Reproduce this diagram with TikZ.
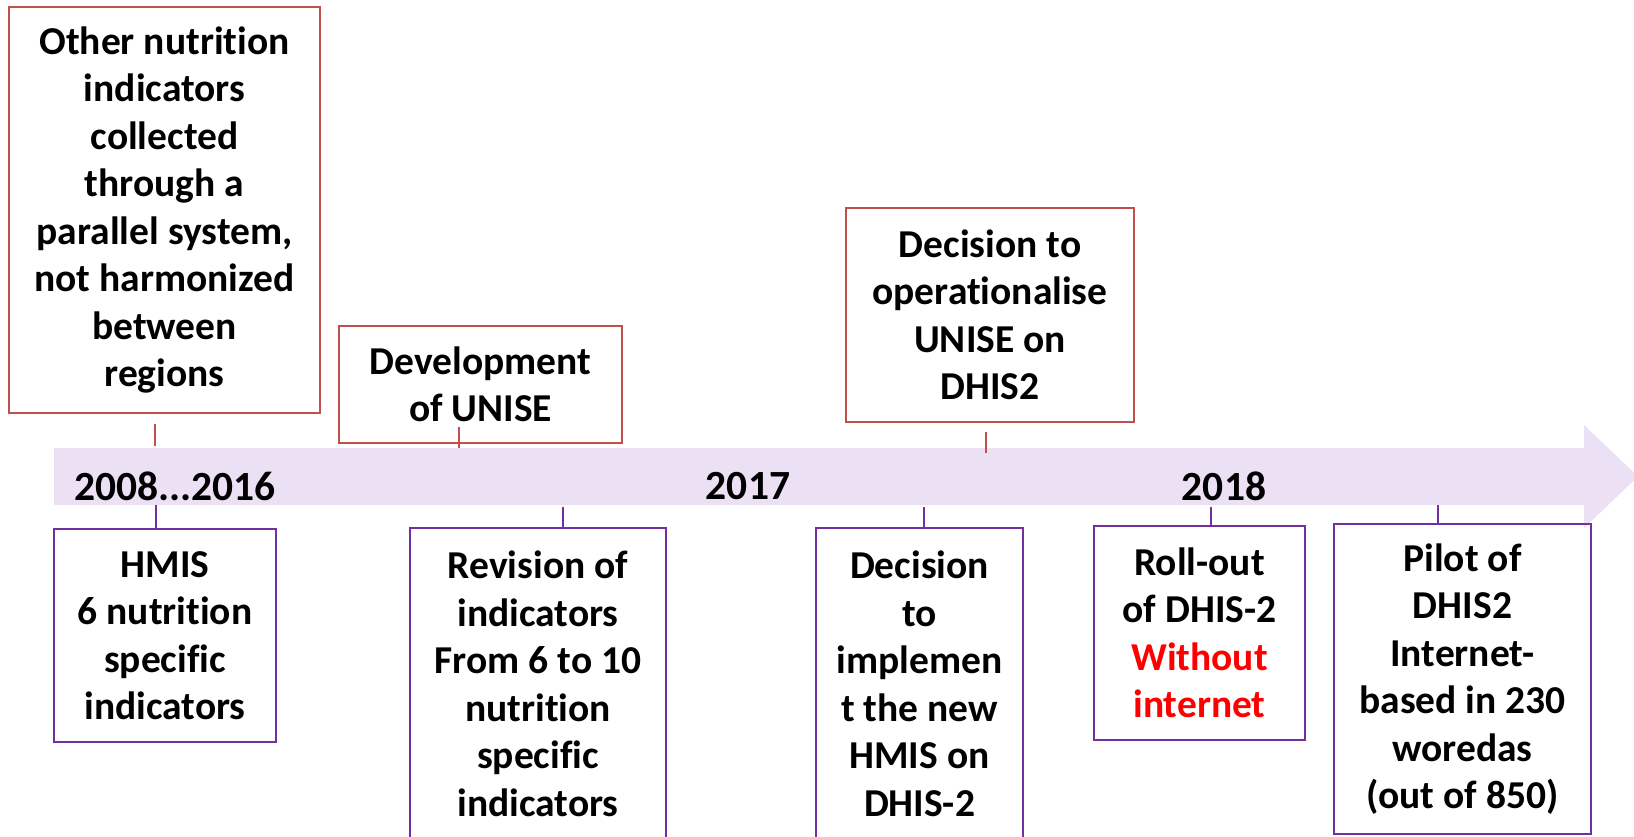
\documentclass[tikz,border=0pt]{standalone}
\usepackage{fontspec}
\setmainfont{Carlito}[Ligatures={NoCommon}]
\definecolor{topline}{HTML}{C0504D}
\definecolor{botline}{HTML}{7030A0}
\definecolor{bandfill}{RGB}{236,224,244}
\definecolor{alertred}{HTML}{FF0000}
\begin{document}
\begin{tikzpicture}[x=1pt,y=-1pt,
  every node/.style={font=\fontsize{39.5}{47.5}\selectfont\bfseries, align=center, inner sep=0pt},
  topbox/.style={draw=topline, line width=2pt},
  botbox/.style={draw=botline, line width=2pt},
  topstub/.style={draw=topline, line width=2pt},
  botstub/.style={draw=botline, line width=2pt},
  year/.style={font=\fontsize{41.5}{48}\selectfont\bfseries}]
\useasboundingbox (0,0) rectangle (1634,837);
\clip (0,0) rectangle (1634,837);

% timeline band with arrow head
\fill[bandfill] (54,448) -- (1584,448) -- (1584,425) -- (1638,476.5)
  -- (1584,528) -- (1584,505) -- (54,505) -- cycle;

% year labels
\node[year] (y1) at (175,486) {2008...2016};
\node[year] (y2) at (748,486) {2017};
\node[year] (y3) at (1224,486) {2018};

% events above the band
\node[topbox, minimum width=311pt, minimum height=406pt] (other) at (164.5,210)
  {Other nutrition\\indicators\\collected\\through a\\parallel system,\\not harmonized\\between\\regions};
\node[topbox, minimum width=283pt, minimum height=117pt] (dev) at (480.5,384.5)
  {Development\\of UNISE};
\node[topbox, minimum width=288pt, minimum height=214pt] (oper) at (990,315)
  {Decision to\\operationalise\\UNISE on\\DHIS2};

% events below the band
\node[botbox, minimum width=222pt, minimum height=213pt] (hmis) at (165,635.5)
  {HMIS\\6 nutrition\\specific\\indicators};
\node[botbox, minimum width=256pt, minimum height=312pt] (rev) at (538,684)
  {Revision of\\indicators\\From 6 to 10\\nutrition\\specific\\indicators};
\node[botbox, minimum width=207pt, minimum height=312pt] (impl) at (919.5,684)
  {Decision\\to\\implemen\\t the new\\HMIS on\\DHIS-2};
\node[botbox, minimum width=211pt, minimum height=214pt] (roll) at (1199.5,633)
  {Roll-out\\of DHIS-2\\\textcolor{alertred}{Without}\\\textcolor{alertred}{internet}};
\node[botbox, minimum width=257pt, minimum height=310pt] (pilot) at (1462.5,679)
  {Pilot of\\DHIS2\\Internet-\\based in 230\\woredas\\(out of 850)};

% short ticks between the band and the events
\coordinate (t1) at (155,424);  \coordinate (b1) at (155,446);
\coordinate (t2) at (459,427);  \coordinate (b2) at (459,448);
\coordinate (t3) at (986,432);  \coordinate (b3) at (986,453);
\draw[topstub] (t1) -- (b1);
\draw[topstub] (t2) -- (b2);
\draw[topstub] (t3) -- (b3);

\coordinate (s1) at (156,505);
\coordinate (s2) at (563,507);
\coordinate (s3) at (924,507);
\coordinate (s4) at (1211,507);
\coordinate (s5) at (1438,505);
\draw[botstub] (s1) -- (s1 |- hmis.north);
\draw[botstub] (s2) -- (s2 |- rev.north);
\draw[botstub] (s3) -- (s3 |- impl.north);
\draw[botstub] (s4) -- (s4 |- roll.north);
\draw[botstub] (s5) -- (s5 |- pilot.north);
\end{tikzpicture}
\end{document}
